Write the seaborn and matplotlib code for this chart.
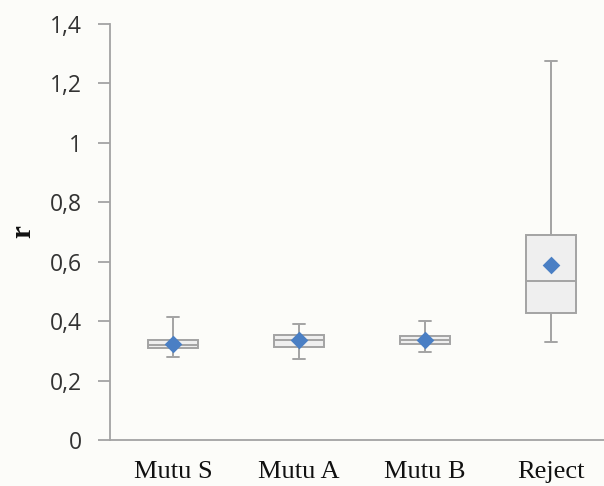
import numpy as np
import pandas as pd
import matplotlib
matplotlib.use("Agg")
import matplotlib.pyplot as plt
import seaborn as sns
from matplotlib.ticker import FuncFormatter

# Five-number summaries of r for each quality grade
categories = ["Mutu S", "Mutu A", "Mutu B", "Reject"]
r_min = [0.280, 0.272, 0.295, 0.331]
r_q1 = [0.309, 0.314, 0.322, 0.426]
r_median = [0.320, 0.337, 0.336, 0.536]
r_q3 = [0.337, 0.353, 0.350, 0.690]
r_max = [0.413, 0.392, 0.401, 1.276]
r_mean = [0.323, 0.337, 0.336, 0.589]

yticks = [0, 0.2, 0.4, 0.6, 0.8, 1.0, 1.2, 1.4]

# Long-form table: with whiskers at the 0th/100th percentile, these five
# values per grade reproduce exactly the min, quartiles, median and max.
rows = []
for i, cat in enumerate(categories):
    for v in (r_min[i], r_q1[i], r_median[i], r_q3[i], r_max[i]):
        rows.append({"grade": cat, "r": v})
df = pd.DataFrame(rows)

sns.set_theme(style="white")
bg = "#FCFCF9"
fig = plt.figure(figsize=(6.04, 4.86), dpi=100, facecolor=bg)
ax = fig.add_axes([110 / 604, 46 / 486, 504 / 604, 416 / 486])
ax.set_facecolor(bg)

line_c = "#A3A3A3"
sns.boxplot(
    data=df, x="grade", y="r", order=categories,
    whis=(0, 100), width=0.4, color="#EFEFEF", saturation=1,
    linecolor=line_c, linewidth=1.4, showfliers=False,
    capwidths=0.1, ax=ax,
)

sns.stripplot(
    x=categories, y=r_mean, order=categories, jitter=False,
    marker="D", size=9, color="#4A7FC4", linewidth=0, zorder=5, ax=ax,
)

ax.set_xlim(-0.5, 3.5)
ax.set_ylim(0, 1.4)
ax.set_yticks(yticks)
ax.yaxis.set_major_formatter(
    FuncFormatter(lambda v, _: (f"{v:.1f}".rstrip("0").rstrip(".")).replace(".", ","))
)

for side in ("top", "right"):
    ax.spines[side].set_visible(False)
for side in ("left", "bottom"):
    ax.spines[side].set_color(line_c)
    ax.spines[side].set_linewidth(1.3)

ax.tick_params(axis="y", which="major", left=True, length=9, width=1.3,
               color=line_c, pad=11, labelsize=16.5, labelcolor="#333333")
ax.tick_params(axis="x", length=0, pad=15, labelsize=19, labelcolor="#111111")
for lab in ax.get_yticklabels():
    lab.set_fontfamily("Open Sans")
for lab in ax.get_xticklabels():
    lab.set_fontfamily("Liberation Serif")

ax.set_xlabel("")
ax.set_ylabel("r", fontfamily="Liberation Serif", fontweight="bold",
              fontsize=21, color="#111111", labelpad=10)

fig.savefig("out.png", dpi=100, facecolor=bg)
